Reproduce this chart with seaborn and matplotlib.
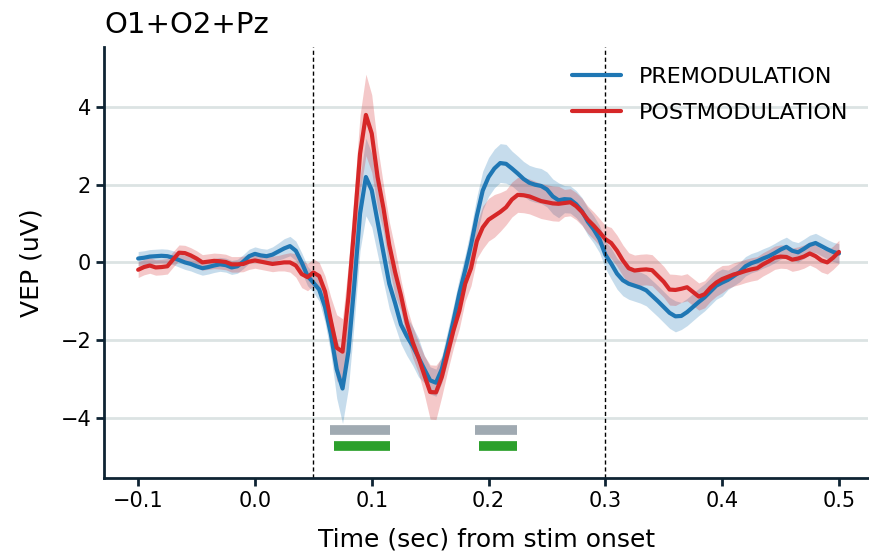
### VEP plot: PRE vs POST modulation, O1+O2+Pz ###

import numpy as np
import pandas as pd
import matplotlib
matplotlib.use("Agg")
import matplotlib.pyplot as plt
import seaborn as sns

# time grid (sec from stim onset), 5 ms steps
time = np.linspace(-0.1, 0.5, 121)

# PREMODULATION mean VEP (uV)
pre_mean = [0.10, 0.12, 0.15, 0.16, 0.17, 0.16, 0.12, 0.06, 0.00, -0.04,
            -0.10, -0.15, -0.12, -0.08, -0.05, -0.07, -0.13, -0.10, 0.02, 0.16,
            0.22, 0.18, 0.16, 0.20, 0.28, 0.36, 0.42, 0.30, 0.00, -0.35,
            -0.52, -0.70, -1.15, -1.85, -2.75, -3.25, -2.30, -0.60, 1.26, 2.20,
            1.86, 1.05, 0.25, -0.55, -1.05, -1.60, -1.90, -2.15, -2.45, -2.75,
            -3.04, -3.10, -2.75, -2.15, -1.50, -0.80, -0.20, 0.45, 1.20, 1.85,
            2.20, 2.42, 2.56, 2.54, 2.42, 2.29, 2.15, 2.05, 2.00, 1.97,
            1.88, 1.70, 1.60, 1.63, 1.62, 1.50, 1.32, 1.05, 0.85, 0.60,
            0.20, -0.03, -0.29, -0.46, -0.55, -0.60, -0.65, -0.72, -0.86, -1.00,
            -1.15, -1.30, -1.39, -1.38, -1.28, -1.15, -1.02, -0.90, -0.75, -0.60,
            -0.52, -0.45, -0.35, -0.25, -0.10, -0.02, 0.03, 0.10, 0.16, 0.24,
            0.33, 0.40, 0.30, 0.26, 0.35, 0.45, 0.50, 0.42, 0.34, 0.27,
            0.23]

# POSTMODULATION mean VEP (uV)
post_mean = [-0.19, -0.12, -0.08, -0.13, -0.12, -0.10, 0.08, 0.25, 0.24, 0.18,
             0.10, 0.00, 0.02, 0.04, 0.03, 0.01, -0.05, -0.05, -0.04, 0.02,
             0.05, 0.02, -0.01, -0.04, -0.02, 0.00, 0.00, -0.08, -0.30, -0.38,
             -0.26, -0.35, -0.75, -1.50, -2.20, -2.30, -0.90, 0.90, 2.80, 3.80,
             3.32, 2.20, 1.40, 0.45, -0.25, -0.85, -1.55, -2.05, -2.45, -2.90,
             -3.34, -3.35, -2.95, -2.35, -1.75, -1.25, -0.55, -0.15, 0.55, 0.90,
             1.10, 1.20, 1.30, 1.42, 1.62, 1.74, 1.73, 1.70, 1.64, 1.58,
             1.55, 1.52, 1.51, 1.53, 1.55, 1.45, 1.30, 1.10, 0.95, 0.78,
             0.60, 0.50, 0.30, 0.05, -0.15, -0.21, -0.19, -0.18, -0.20, -0.35,
             -0.50, -0.70, -0.71, -0.68, -0.64, -0.76, -0.88, -0.82, -0.65, -0.52,
             -0.43, -0.37, -0.31, -0.27, -0.22, -0.18, -0.15, -0.05, 0.03, 0.12,
             0.15, 0.14, 0.07, 0.10, 0.15, 0.23, 0.16, 0.05, 0.00, 0.12,
             0.27]

# half width of shaded error band (uV)
pre_err = [0.18, 0.18, 0.18, 0.18, 0.18, 0.18, 0.18, 0.18, 0.18, 0.18,
           0.18, 0.18, 0.18, 0.18, 0.18, 0.18, 0.18, 0.18, 0.18, 0.18,
           0.18, 0.18, 0.18, 0.20, 0.22, 0.25, 0.25, 0.25, 0.25, 0.25,
           0.25, 0.30, 0.40, 0.50, 0.75, 0.90, 0.95, 0.95, 0.95, 1.00,
           0.95, 0.85, 0.75, 0.65, 0.60, 0.50, 0.50, 0.50, 0.50, 0.35,
           0.35, 0.35, 0.35, 0.40, 0.40, 0.40, 0.40, 0.45, 0.50, 0.50,
           0.50, 0.50, 0.50, 0.50, 0.45, 0.45, 0.45, 0.45, 0.45, 0.45,
           0.45, 0.45, 0.45, 0.35, 0.35, 0.35, 0.35, 0.35, 0.35, 0.35,
           0.35, 0.40, 0.40, 0.40, 0.40, 0.40, 0.40, 0.40, 0.40, 0.40,
           0.40, 0.40, 0.40, 0.35, 0.35, 0.35, 0.35, 0.35, 0.35, 0.35,
           0.35, 0.25, 0.25, 0.25, 0.25, 0.25, 0.25, 0.25, 0.25, 0.25,
           0.25, 0.25, 0.25, 0.25, 0.25, 0.25, 0.25, 0.25, 0.25, 0.25,
           0.25]

post_err = [0.20, 0.20, 0.20, 0.20, 0.20, 0.20, 0.20, 0.20, 0.20, 0.20,
            0.20, 0.20, 0.20, 0.20, 0.20, 0.20, 0.20, 0.20, 0.20, 0.20,
            0.20, 0.20, 0.20, 0.20, 0.20, 0.22, 0.25, 0.30, 0.35, 0.35,
            0.35, 0.35, 0.40, 0.60, 0.85, 0.85, 0.85, 0.90, 1.00, 1.05,
            1.00, 0.80, 0.60, 0.60, 0.60, 0.40, 0.40, 0.40, 0.40, 0.50,
            0.70, 0.70, 0.50, 0.45, 0.45, 0.45, 0.45, 0.45, 0.45, 0.55,
            0.55, 0.55, 0.50, 0.45, 0.45, 0.45, 0.45, 0.45, 0.45, 0.45,
            0.45, 0.45, 0.45, 0.35, 0.35, 0.35, 0.35, 0.35, 0.35, 0.35,
            0.35, 0.40, 0.40, 0.40, 0.40, 0.40, 0.40, 0.40, 0.40, 0.40,
            0.40, 0.40, 0.40, 0.35, 0.35, 0.35, 0.35, 0.35, 0.35, 0.35,
            0.35, 0.30, 0.30, 0.30, 0.30, 0.30, 0.30, 0.30, 0.30, 0.30,
            0.30, 0.30, 0.30, 0.30, 0.30, 0.30, 0.30, 0.30, 0.30, 0.30,
            0.30]

# significance windows (sec): grey = pre, green = post
sig_grey = [(0.064, 0.116), (0.188, 0.224)]
sig_green = [(0.068, 0.116), (0.192, 0.224)]

# analysis window markers
vlines = [0.05, 0.30]

conditions = ["PREMODULATION", "POSTMODULATION"]
colors = ["#1f77b4", "#d62728"]

# long format dataframe for seaborn
df = pd.concat([
    pd.DataFrame({"time": time, "vep": pre_mean, "err": pre_err, "cond": conditions[0]}),
    pd.DataFrame({"time": time, "vep": post_mean, "err": post_err, "cond": conditions[1]}),
])

sns.set_style("white")
plt.rcParams['font.family'] = ['DejaVu Sans']
plt.rcParams['text.color'] = 'black'
plt.rcParams['axes.labelcolor'] = 'black'
plt.rcParams['xtick.color'] = 'black'
plt.rcParams['ytick.color'] = 'black'

fig = plt.figure(figsize = (8.69, 5.53), dpi = 100)
ax = fig.add_axes([0.12, 0.136, 0.879, 0.779])

# horizontal grid
ax.set_axisbelow(True)
ax.yaxis.grid(True, color = "#dce3e3", linewidth = 2)

# error bands
for cond, col in zip(conditions, colors):
    d = df[df["cond"] == cond]
    ax.fill_between(d["time"], d["vep"] - d["err"], d["vep"] + d["err"],
                    color = col, alpha = 0.25, linewidth = 0)

# mean lines
sns.lineplot(data = df, x = "time", y = "vep", hue = "cond", hue_order = conditions,
             palette = colors, linewidth = 3, ax = ax, errorbar = None)

for v in vlines:
    ax.axvline(v, color = "black", linestyle = (0, (3, 2)), linewidth = 1)

# significance bars
for a, b in sig_grey:
    ax.plot([a, b], [-4.33, -4.33], color = "#a0aab2", linewidth = 7, solid_capstyle = "butt")
for a, b in sig_green:
    ax.plot([a, b], [-4.72, -4.72], color = "#2ca02c", linewidth = 7, solid_capstyle = "butt")

ax.set_xlim(-0.129, 0.525)
ax.set_ylim(-5.55, 5.55)
ax.set_xticks([-0.1, 0.0, 0.1, 0.2, 0.3, 0.4, 0.5])
ax.set_yticks([-4, -2, 0, 2, 4])
ax.set_xlabel("Time (sec) from stim onset", fontsize = 18, labelpad = 12)
ax.set_ylabel("VEP (uV)", fontsize = 18, labelpad = 12)
ax.set_title("O1+O2+Pz", loc = "left", fontsize = 21, pad = 10)
ax.tick_params(axis = "both", labelsize = 15, length = 6, width = 2, color = "#0e2433", left = True, bottom = True)

for s in ["top", "right"]:
    ax.spines[s].set_visible(False)
for s in ["left", "bottom"]:
    ax.spines[s].set_color("#0e2433")
    ax.spines[s].set_linewidth(2)

leg = ax.legend(loc = "upper right", frameon = False, fontsize = 16, handlelength = 2.2,
                labelspacing = 0.7)
for line in leg.get_lines():
    line.set_linewidth(3)

fig.savefig("out.png", dpi = 100)
